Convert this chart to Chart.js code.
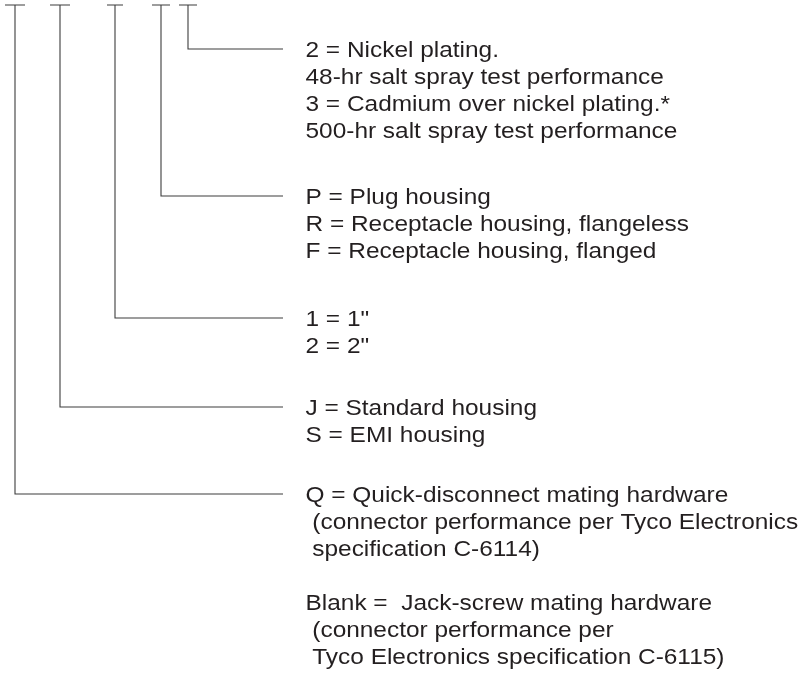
<!DOCTYPE html>
<html>
<head>
<meta charset="utf-8">
<script src="https://cdn.jsdelivr.net/npm/chart.js@4.4.1/dist/chart.umd.min.js"></script>
<style>
  html, body { margin: 0; padding: 0; background: #ffffff; }
  #wrap { width: 812px; height: 686px; position: relative; }
</style>
</head>
<body>
<div id="wrap"><canvas id="c" width="812" height="686"></canvas></div>
<script>
// ---- Diagram data (in diagram units, mapped through Chart.js scales) ----
const stemX      = [15, 60, 115, 161, 188];    // code-position stems, left to right
const tickHalf   = [10, 10, 8, 9, 9];           // half width of each top cap
const branchY    = [494, 407, 318, 196, 49];    // where each stem turns right
const topY       = 5;
const branchEndX = 283;
const textX      = 305.5;

const optionsPos1 = [" Q = Quick-disconnect mating hardware",
                     "  (connector performance per Tyco Electronics",
                     "  specification C-6114)",
                     "",
                     " Blank =  Jack-screw mating hardware",
                     "  (connector performance per",
                     "  Tyco Electronics specification C-6115)"];
const optionsPos2 = ["J = Standard housing", "S = EMI housing"];
const optionsPos3 = ["1 = 1\"", "2 = 2\""];
const optionsPos4 = ["P = Plug housing", "R = Receptacle housing, flangeless", "F = Receptacle housing, flanged"];
const optionsPos5 = ["2 = Nickel plating.", "48-hr salt spray test performance",
                     "3 = Cadmium over nickel plating.*", "500-hr salt spray test performance"];
const optionGroups = [optionsPos1, optionsPos2, optionsPos3, optionsPos4, optionsPos5];

// ---- Build line datasets ----
const datasets = stemX.map((sx, i) => ({
  data: [
    {x: sx - tickHalf[i], y: topY},
    {x: sx + tickHalf[i], y: topY},
    {x: sx, y: topY},
    {x: sx, y: branchY[i]},
    {x: branchEndX, y: branchY[i]}
  ],
  showLine: true,
  borderColor: '#3c3c3c',
  borderWidth: 1.1,
  pointRadius: 0,
  tension: 0,
  fill: false
}));

const FONT_PX = 22, SCALE_X = 1.11, LINE_H = 27, BASE_OFF = 7.5;

const textPlugin = {
  id: 'optionText',
  afterDraw(chart) {
    const ctx = chart.ctx;
    const xs = chart.scales.x, ys = chart.scales.y;
    ctx.save();
    ctx.fillStyle = '#231f20';
    ctx.font = FONT_PX + 'px "Liberation Sans", Arial, sans-serif';
    ctx.textBaseline = 'alphabetic';
    ctx.textAlign = 'left';
    optionGroups.forEach((lines, g) => {
      lines.forEach((ln, k) => {
        if (!ln) return;
        const px = xs.getPixelForValue(textX);
        const py = ys.getPixelForValue(branchY[g] + BASE_OFF + k * LINE_H);
        const s = ln.replace(/^ /, '');
        ctx.save();
        ctx.translate(px, py);
        ctx.scale(SCALE_X, 1);
        ctx.fillText(s, 0, 0);
        ctx.restore();
      });
    });
    ctx.restore();
  }
};

new Chart(document.getElementById('c'), {
  type: 'scatter',
  data: { datasets },
  options: {
    responsive: false,
    animation: false,
    devicePixelRatio: 1,
    layout: { padding: 0 },
    plugins: { legend: { display: false }, tooltip: { enabled: false } },
    scales: {
      x: { type: 'linear', min: 0, max: 812, display: false },
      y: { type: 'linear', min: 0, max: 686, reverse: true, display: false }
    }
  },
  plugins: [textPlugin]
});
</script>
</body>
</html>
